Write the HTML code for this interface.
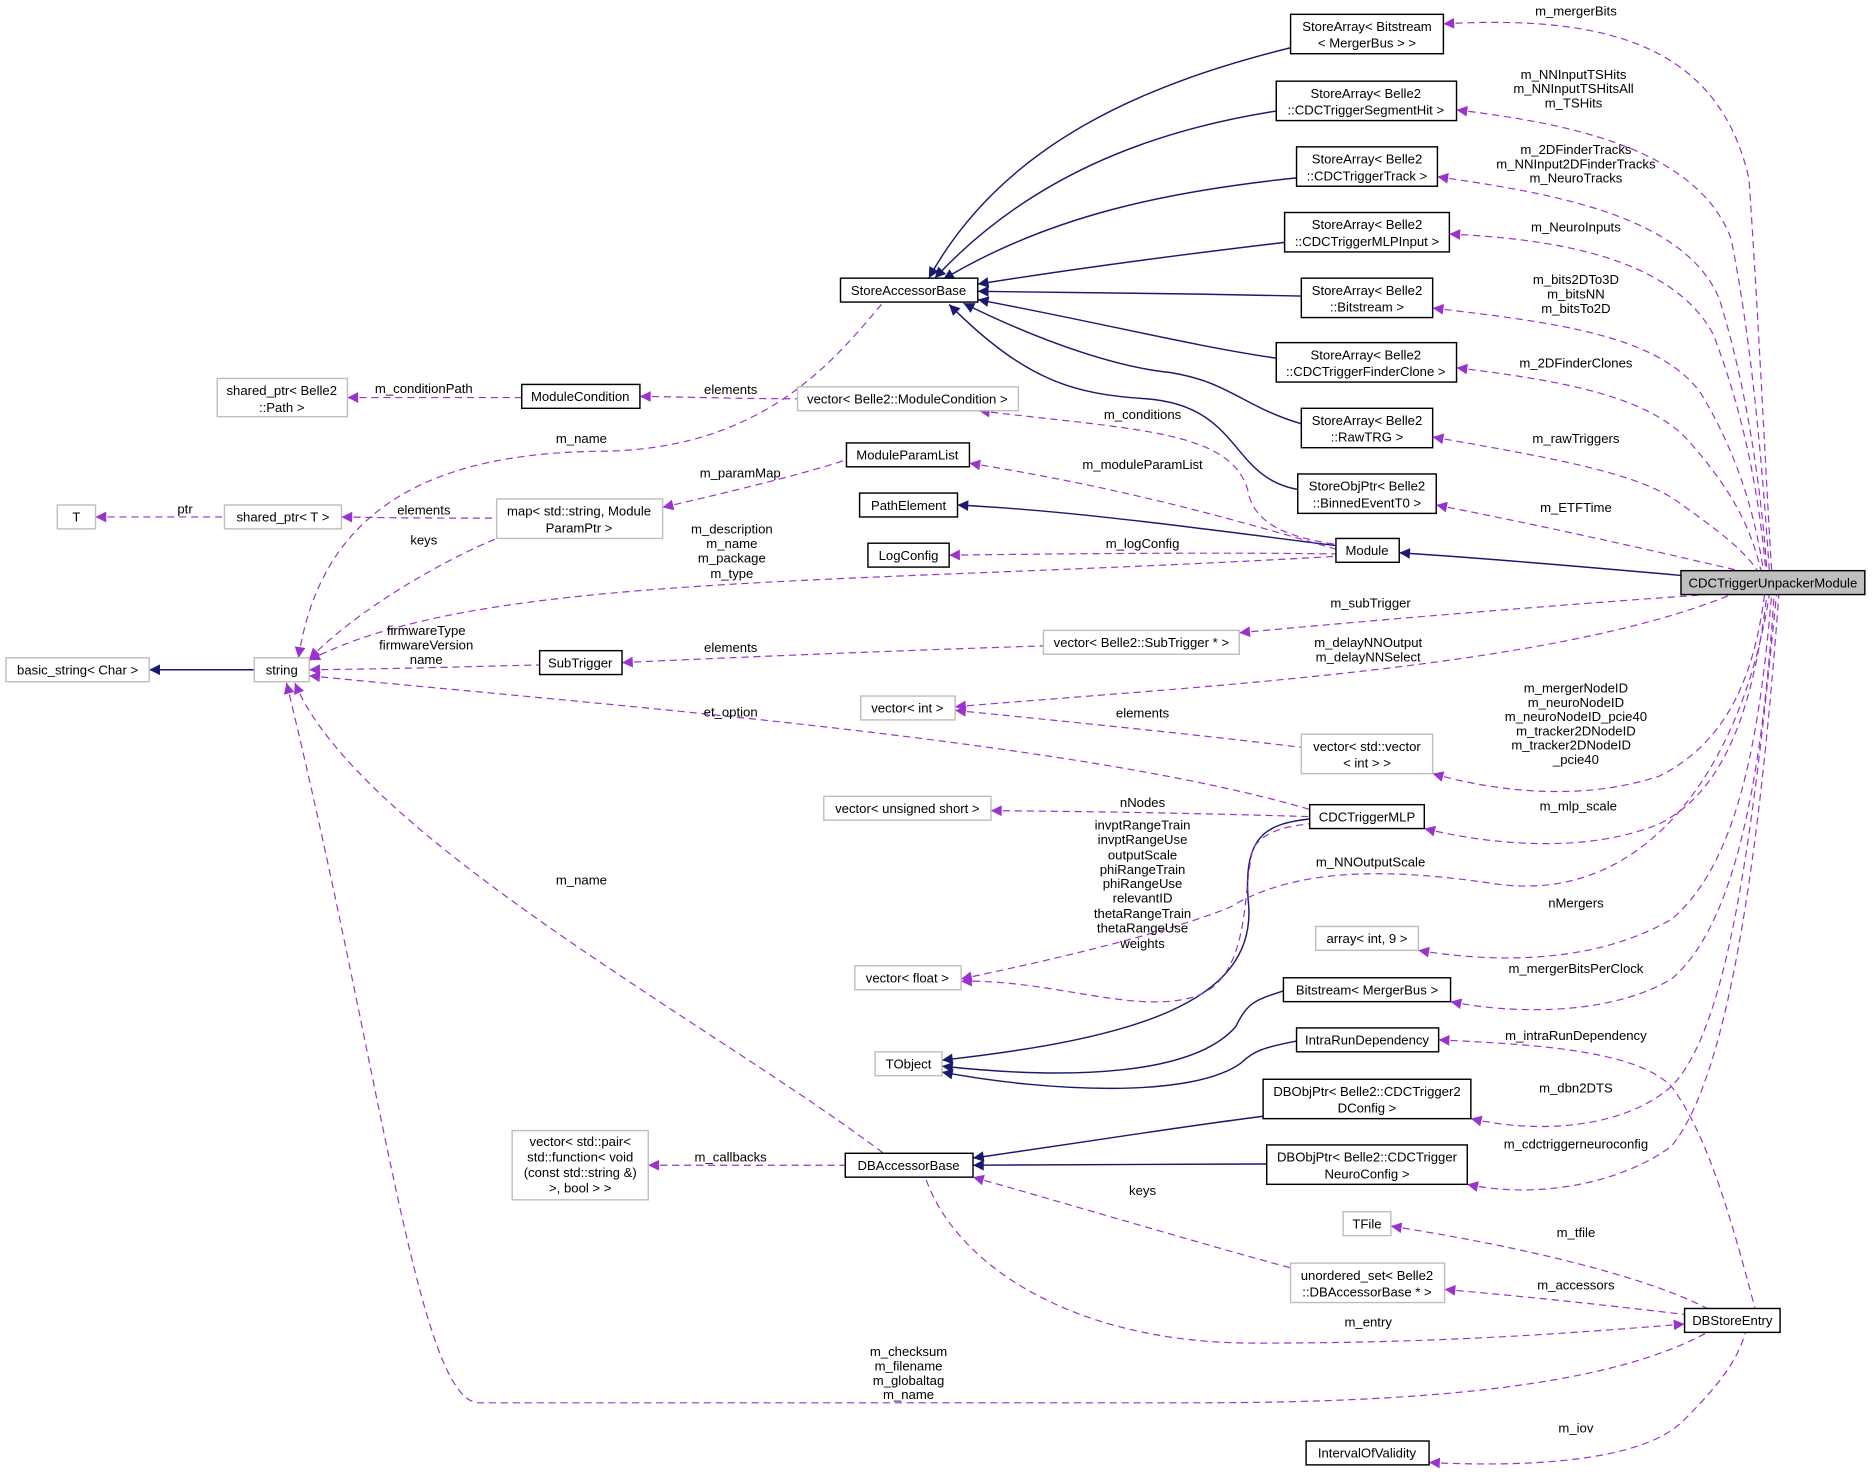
<!DOCTYPE html>
<html><head><meta charset="utf-8"><style>
html,body{margin:0;padding:0;background:#fff;}
svg{display:block;}
text{font-family:"Liberation Sans",sans-serif;font-size:11px;fill:#000;text-anchor:middle;}
.b{fill:#fff;stroke:#000;stroke-width:1.2;}
.g{fill:#fff;stroke:#bfbfbf;stroke-width:1.2;}
.p{fill:none;stroke:#9a32cd;stroke-width:1;stroke-dasharray:6,4;marker-start:url(#ap);}
.n{fill:none;stroke:#191970;stroke-width:1.2;marker-start:url(#an);}
</style></head><body>
<svg width="1872" height="1473" viewBox="0 0 1568 1233.8" preserveAspectRatio="none" xmlns="http://www.w3.org/2000/svg">
<defs>
<marker id="ap" viewBox="0 0 10 10" refX="10" refY="5" markerWidth="10" markerHeight="9" markerUnits="userSpaceOnUse" orient="auto-start-reverse"><path d="M0,0 L10,5 L0,10 z" fill="#9a32cd"/></marker>
<marker id="an" viewBox="0 0 10 10" refX="10" refY="5" markerWidth="10" markerHeight="9" markerUnits="userSpaceOnUse" orient="auto-start-reverse"><path d="M0,0 L10,5 L0,10 z" fill="#191970"/></marker>
</defs>

<path class="n" d="M778,233 C840,120 960,70 1081,40"/>
<path class="n" d="M783,233 C860,150 960,110 1069,93"/>
<path class="n" d="M790,234 C880,180 980,160 1086,149"/>
<path class="n" d="M819,238 C900,225 1000,212 1076,203"/>
<path class="n" d="M819,244 C920,245 1000,246 1090,248"/>
<path class="n" d="M819,251 C920,270 1000,290 1069,300"/>
<path class="n" d="M807,254 C880,290 940,308 980,312 C1030,320 1040,340 1090,355"/>
<path class="n" d="M795,255 C860,320 900,330 960,334 C1040,340 1030,400 1087,410"/>
<path class="n" d="M802,423 C900,428 1000,442 1119,457"/>
<path class="n" d="M1172,463 C1250,468 1330,475 1408,482"/>
<path class="n" d="M125,561 L213,561"/>
<path class="n" d="M789,888 C950,870 1050,840 1046,760 C1040,700 1060,690 1097,686"/>
<path class="n" d="M789,893 C900,905 1000,900 1035,860 C1045,840 1050,838 1075,830"/>
<path class="n" d="M789,898 C880,915 1000,920 1040,890 C1050,880 1060,877 1086,872"/>
<path class="n" d="M815,970 C900,958 980,945 1058,935"/>
<path class="n" d="M815,976 C900,976 980,975 1061,975"/>

<path class="p" d="M1209,20 C1350,12 1440,40 1465,150 C1475,300 1480,420 1484,478"/>
<path class="p" d="M1220,92 C1300,102 1420,120 1450,200 C1470,300 1478,420 1482,478"/>
<path class="p" d="M1204,148 C1300,162 1410,180 1440,250 C1465,330 1476,420 1480,478"/>
<path class="p" d="M1214,196 C1300,200 1400,215 1435,280 C1462,350 1474,420 1479,478"/>
<path class="p" d="M1200,258 C1300,270 1390,280 1425,330 C1455,380 1470,430 1477,478"/>
<path class="p" d="M1220,308 C1300,318 1380,330 1415,370 C1450,410 1466,440 1475,478"/>
<path class="p" d="M1200,366 C1290,382 1370,395 1405,420 C1440,445 1460,460 1472,478"/>
<path class="p" d="M1203,423 C1290,440 1380,460 1465,480"/>
<path class="p" d="M1038,530 C1200,515 1330,505 1430,498"/>
<path class="p" d="M800,592 C1000,575 1300,560 1450,498"/>
<path class="p" d="M1200,648 C1260,665 1330,670 1390,650 C1450,620 1470,560 1478,498"/>
<path class="p" d="M1193,694 C1250,708 1330,715 1390,690 C1450,660 1470,580 1480,498"/>
<path class="p" d="M805,820 C900,800 980,780 1030,760 C1080,730 1150,725 1250,740 C1380,760 1460,640 1482,498"/>
<path class="p" d="M1188,796 C1260,808 1340,805 1400,770 C1460,720 1475,600 1484,498"/>
<path class="p" d="M1215,839 C1270,850 1350,850 1400,820 C1460,770 1478,620 1486,498"/>
<path class="p" d="M1232,937 C1290,950 1360,945 1400,910 C1450,860 1470,680 1488,498"/>
<path class="p" d="M1229,992 C1290,1005 1360,990 1400,960 C1450,900 1475,700 1490,498"/>
<path class="p" d="M1205,871 C1290,875 1370,880 1400,910 C1430,950 1450,1020 1470,1096"/>
<path class="p" d="M259,553 C400,480 700,490 1119,466"/>
<path class="p" d="M795,465 C950,463 1050,463 1119,464"/>
<path class="p" d="M812,388 C950,410 1050,440 1119,460"/>
<path class="p" d="M820,344 C950,360 1030,360 1045,410 C1050,440 1080,450 1119,456"/>
<path class="p" d="M536,332 C600,333 620,334 668,334"/>
<path class="p" d="M291,333 C350,333 400,333 437,333"/>
<path class="p" d="M250,551 C270,420 370,380 500,378 C640,378 700,300 740,253"/>
<path class="p" d="M555,425 C620,410 680,395 709,385"/>
<path class="p" d="M286,433 C340,434 380,434 416,434"/>
<path class="p" d="M259,552 C300,510 370,470 416,451"/>
<path class="p" d="M80,433 C120,433 160,433 188,433"/>
<path class="p" d="M259,561 C350,560 400,558 452,557"/>
<path class="p" d="M521,555 C650,549 780,544 874,541"/>
<path class="p" d="M800,595 C900,605 1000,615 1090,626"/>
<path class="p" d="M259,566 C500,590 900,620 1097,678"/>
<path class="p" d="M830,679 C950,680 1030,682 1097,684"/>
<path class="p" d="M805,822 C880,820 950,850 1000,835 C1050,820 1040,740 1050,710 C1060,695 1080,692 1097,690"/>
<path class="p" d="M247,572 C300,700 600,860 740,966"/>
<path class="p" d="M543,976 C600,976 660,976 708,976"/>
<path class="p" d="M815,986 C900,1010 1000,1040 1081,1062"/>
<path class="p" d="M1411,1109 C1300,1118 1200,1125 1050,1125 C900,1125 800,1060 775,986"/>
<path class="p" d="M1165,1027 C1280,1045 1380,1070 1430,1096"/>
<path class="p" d="M1210,1080 C1300,1088 1360,1095 1411,1101"/>
<path class="p" d="M240,572 C320,900 350,1170 400,1175 L1000,1175 C1200,1175 1350,1160 1430,1116"/>
<path class="p" d="M1197,1225 C1300,1230 1380,1220 1410,1190 C1440,1160 1455,1140 1462,1116"/>

<rect class="b" x="1081" y="12" width="128" height="33"/><text x="1145" y="26">StoreArray&lt; Bitstream</text><text x="1145" y="40">&lt; MergerBus &gt; &gt;</text>
<rect class="b" x="1069" y="68" width="151" height="33"/><text x="1144" y="82">StoreArray&lt; Belle2</text><text x="1144" y="96">::CDCTriggerSegmentHit &gt;</text>
<rect class="b" x="1086" y="123" width="118" height="33"/><text x="1145" y="137">StoreArray&lt; Belle2</text><text x="1145" y="151">::CDCTriggerTrack &gt;</text>
<rect class="b" x="1076" y="178" width="138" height="33"/><text x="1145" y="192">StoreArray&lt; Belle2</text><text x="1145" y="206">::CDCTriggerMLPInput &gt;</text>
<rect class="b" x="1090" y="233" width="110" height="33"/><text x="1145" y="247">StoreArray&lt; Belle2</text><text x="1145" y="261">::Bitstream &gt;</text>
<rect class="b" x="1069" y="287" width="151" height="33"/><text x="1144" y="301">StoreArray&lt; Belle2</text><text x="1144" y="315">::CDCTriggerFinderClone &gt;</text>
<rect class="b" x="1090" y="342" width="110" height="33"/><text x="1145" y="356">StoreArray&lt; Belle2</text><text x="1145" y="370">::RawTRG &gt;</text>
<rect class="b" x="1087" y="397" width="116" height="33"/><text x="1145" y="411">StoreObjPtr&lt; Belle2</text><text x="1145" y="425">::BinnedEventT0 &gt;</text>
<rect class="b" x="704" y="233" width="115" height="20"/><text x="761" y="247">StoreAccessorBase</text>
<rect class="g" x="182" y="317" width="109" height="32"/><text x="236" y="331">shared_ptr&lt; Belle2</text><text x="236" y="345">::Path &gt;</text>
<rect class="b" x="437" y="322" width="99" height="20"/><text x="486" y="336">ModuleCondition</text>
<rect class="g" x="668" y="324" width="185" height="20"/><text x="760" y="338">vector&lt; Belle2::ModuleCondition &gt;</text>
<rect class="b" x="709" y="371" width="103" height="20"/><text x="760" y="385">ModuleParamList</text>
<rect class="g" x="48" y="423" width="32" height="20"/><text x="64" y="437">T</text>
<rect class="g" x="188" y="423" width="98" height="20"/><text x="237" y="437">shared_ptr&lt; T &gt;</text>
<rect class="g" x="416" y="418" width="139" height="33"/><text x="485" y="432">map&lt; std::string, Module</text><text x="485" y="446">ParamPtr &gt;</text>
<rect class="b" x="720" y="413" width="82" height="20"/><text x="761" y="427">PathElement</text>
<rect class="b" x="727" y="455" width="68" height="20"/><text x="761" y="469">LogConfig</text>
<rect class="b" x="1119" y="451" width="53" height="20"/><text x="1145" y="465">Module</text>
<rect x="1408" y="478" width="154" height="20" fill="#bfbfbf" stroke="#000" stroke-width="1.2"/><text x="1485" y="492">CDCTriggerUnpackerModule</text>
<rect class="g" x="5" y="551" width="120" height="20"/><text x="65" y="565">basic_string&lt; Char &gt;</text>
<rect class="g" x="213" y="551" width="46" height="20"/><text x="236" y="565">string</text>
<rect class="b" x="452" y="545" width="69" height="20"/><text x="486" y="559">SubTrigger</text>
<rect class="g" x="874" y="528" width="164" height="20"/><text x="956" y="542">vector&lt; Belle2::SubTrigger * &gt;</text>
<rect class="g" x="721" y="583" width="79" height="20"/><text x="760" y="597">vector&lt; int &gt;</text>
<rect class="g" x="1090" y="615" width="110" height="33"/><text x="1145" y="629">vector&lt; std::vector</text><text x="1145" y="643">&lt; int &gt; &gt;</text>
<rect class="b" x="1097" y="674" width="96" height="20"/><text x="1145" y="688">CDCTriggerMLP</text>
<rect class="g" x="690" y="667" width="140" height="20"/><text x="760" y="681">vector&lt; unsigned short &gt;</text>
<rect class="g" x="1102" y="776" width="86" height="20"/><text x="1145" y="790">array&lt; int, 9 &gt;</text>
<rect class="g" x="716" y="809" width="89" height="20"/><text x="760" y="823">vector&lt; float &gt;</text>
<rect class="b" x="1075" y="819" width="140" height="20"/><text x="1145" y="833">Bitstream&lt; MergerBus &gt;</text>
<rect class="b" x="1086" y="861" width="119" height="20"/><text x="1145" y="875">IntraRunDependency</text>
<rect class="g" x="733" y="881" width="56" height="20"/><text x="761" y="895">TObject</text>
<rect class="b" x="1058" y="904" width="174" height="33"/><text x="1145" y="918">DBObjPtr&lt; Belle2::CDCTrigger2</text><text x="1145" y="932">DConfig &gt;</text>
<rect class="b" x="1061" y="959" width="168" height="33"/><text x="1145" y="973">DBObjPtr&lt; Belle2::CDCTrigger</text><text x="1145" y="987">NeuroConfig &gt;</text>
<rect class="g" x="429" y="947" width="114" height="58"/><text x="486" y="960">vector&lt; std::pair&lt;</text><text x="486" y="973">std::function&lt; void</text><text x="486" y="986">(const std::string &amp;)</text><text x="486" y="999">&gt;, bool &gt; &gt;</text>
<rect class="b" x="708" y="966" width="107" height="20"/><text x="761" y="980">DBAccessorBase</text>
<rect class="g" x="1125" y="1015" width="40" height="20"/><text x="1145" y="1029">TFile</text>
<rect class="g" x="1081" y="1058" width="129" height="33"/><text x="1145" y="1072">unordered_set&lt; Belle2</text><text x="1145" y="1086">::DBAccessorBase * &gt;</text>
<rect class="b" x="1411" y="1096" width="80" height="20"/><text x="1451" y="1110">DBStoreEntry</text>
<rect class="b" x="1094" y="1207" width="103" height="20"/><text x="1145" y="1221">IntervalOfValidity</text>

<text x="1320" y="13">m_mergerBits</text>
<text x="1318" y="66">m_NNInputTSHits</text><text x="1318" y="78">m_NNInputTSHitsAll</text><text x="1318" y="90">m_TSHits</text>
<text x="1320" y="129">m_2DFinderTracks</text><text x="1320" y="141">m_NNInput2DFinderTracks</text><text x="1320" y="153">m_NeuroTracks</text>
<text x="1320" y="194">m_NeuroInputs</text>
<text x="1320" y="238">m_bits2DTo3D</text><text x="1320" y="250">m_bitsNN</text><text x="1320" y="262">m_bitsTo2D</text>
<text x="1320" y="308">m_2DFinderClones</text>
<text x="1320" y="371">m_rawTriggers</text>
<text x="1320" y="429">m_ETFTime</text>
<text x="1148" y="509">m_subTrigger</text>
<text x="1146" y="542">m_delayNNOutput</text><text x="1146" y="554">m_delayNNSelect</text>
<text x="1320" y="580">m_mergerNodeID</text><text x="1320" y="592">m_neuroNodeID</text><text x="1320" y="604">m_neuroNodeID_pcie40</text><text x="1320" y="616">m_tracker2DNodeID</text><text x="1316" y="628">m_tracker2DNodeID</text><text x="1320" y="640">_pcie40</text>
<text x="1322" y="679">m_mlp_scale</text>
<text x="1148" y="726">m_NNOutputScale</text>
<text x="1320" y="760">nMergers</text>
<text x="1320" y="815">m_mergerBitsPerClock</text>
<text x="1320" y="871">m_intraRunDependency</text>
<text x="1320" y="915">m_dbn2DTS</text>
<text x="1320" y="962">m_cdctriggerneuroconfig</text>
<text x="1320" y="1036">m_tfile</text>
<text x="1320" y="1080">m_accessors</text>
<text x="1146" y="1111">m_entry</text>
<text x="1320" y="1200">m_iov</text>
<text x="613" y="447">m_description</text><text x="613" y="459">m_name</text><text x="613" y="471">m_package</text><text x="613" y="484">m_type</text>
<text x="957" y="459">m_logConfig</text>
<text x="957" y="393">m_moduleParamList</text>
<text x="957" y="351">m_conditions</text>
<text x="612" y="330">elements</text>
<text x="355" y="329">m_conditionPath</text>
<text x="487" y="371">m_name</text>
<text x="620" y="400">m_paramMap</text>
<text x="355" y="431">elements</text>
<text x="355" y="456">keys</text>
<text x="155" y="430">ptr</text>
<text x="357" y="532">firmwareType</text><text x="357" y="544">firmwareVersion</text><text x="357" y="556">name</text>
<text x="612" y="546">elements</text>
<text x="957" y="601">elements</text>
<text x="612" y="600">et_option</text>
<text x="957" y="676">nNodes</text>
<text x="957" y="695">invptRangeTrain</text><text x="957" y="707">invptRangeUse</text><text x="957" y="720">outputScale</text><text x="957" y="732">phiRangeTrain</text><text x="957" y="744">phiRangeUse</text><text x="957" y="756">relevantID</text><text x="957" y="769">thetaRangeTrain</text><text x="957" y="781">thetaRangeUse</text><text x="957" y="794">weights</text>
<text x="487" y="741">m_name</text>
<text x="612" y="973">m_callbacks</text>
<text x="957" y="1001">keys</text>
<text x="761" y="1136">m_checksum</text><text x="761" y="1148">m_filename</text><text x="761" y="1160">m_globaltag</text><text x="761" y="1172">m_name</text>
</svg>
</body></html>
